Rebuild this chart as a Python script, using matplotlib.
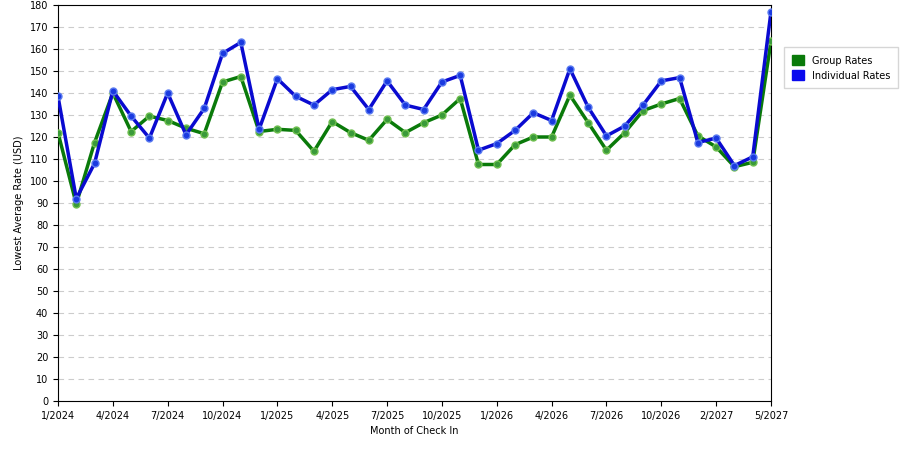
import matplotlib
matplotlib.use("Agg")
import matplotlib.pyplot as plt
from matplotlib.patches import Patch

individual = [138.5, 92, 108, 141, 129.5, 119.5, 140, 121, 133, 158, 163, 123.5, 146.5, 138.5, 134.5, 141.5, 143, 132.5, 145.5, 134.5,
              132.5, 145, 148, 114, 117, 123, 131, 127.5, 151, 133.5, 120.5, 125, 134.5, 145.5, 147, 117.5, 119.5, 107, 111, 177]
group = [122, 89.5, 117.5, 140, 122.5, 129.5, 127.5, 124, 121.5, 145, 147.5, 122.5, 123.5, 123, 113.5, 127, 122, 118.5, 128, 122,
         126.5, 130, 137.5, 107.5, 107.5, 116.5, 120, 120, 139, 126.5, 114, 122, 132, 135, 137.5, 120.5, 115.5, 106.5, 108.5, 163.5]
tick_labels = ["1/2024", "4/2024", "7/2024", "10/2024", "1/2025", "4/2025", "7/2025", "10/2025",
               "1/2026", "4/2026", "7/2026", "10/2026", "2/2027", "5/2027"]

fig = plt.figure(figsize=(9, 4.5), dpi=100)
ax = fig.add_axes([58/900, 1-401/450, 713/900, 396/450])
x = list(range(len(group)))
ax.plot(x, group, color="#0a7a0a", lw=2.5, marker="o", ms=5, mfc="#3a9a3a", mec="#6fbf4f", zorder=3)
ax.plot(x, individual, color="#0a0ad0", lw=2.5, marker="o", ms=5, mfc="#1a3ae0", mec="#5a7af0", zorder=4)
ax.set_xlim(0, len(x)-1)
ax.set_ylim(0, 180)
ax.set_yticks(range(0, 181, 10))
ax.set_xticks(range(0, len(x), 3))
ax.set_xticklabels(tick_labels)
ax.tick_params(labelsize=7)
ax.yaxis.grid(True, ls=(0, (5, 4)), color="#cccccc", lw=0.8)
ax.set_axisbelow(True)
ax.set_xlabel("Month of Check In", fontsize=7)
ax.set_ylabel("Lowest Average Rate (USD)", fontsize=7)
ax.legend(handles=[Patch(color="#0a7a0a", label="Group Rates"), Patch(color="#0a0aee", label="Individual Rates")],
          loc="upper left", bbox_to_anchor=(1.012, 0.905), fontsize=7, frameon=True, fancybox=False,
          edgecolor="#cccccc", handlelength=1.2, handleheight=1.2, borderpad=0.8)
fig.savefig("out.png")
